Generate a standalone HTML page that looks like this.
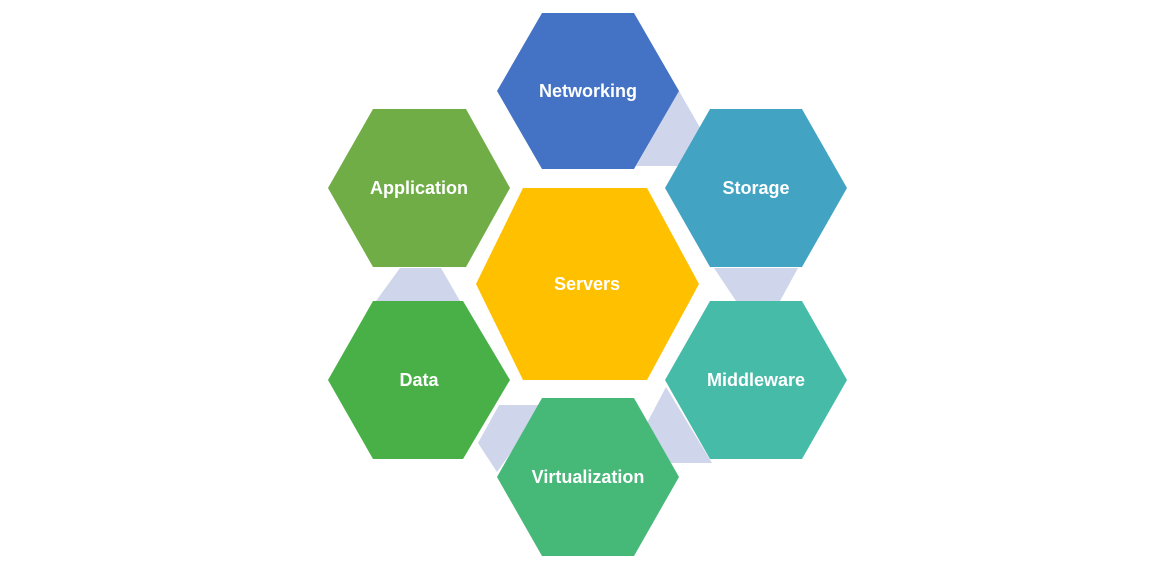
<!DOCTYPE html>
<html><head><meta charset="utf-8"><style>
html,body{margin:0;padding:0;background:#fff;}
svg{display:block;}
text{font-family:"Liberation Sans",sans-serif;font-weight:bold;font-size:18px;fill:#fff;text-anchor:middle;dominant-baseline:central;}
</style></head><body>
<svg width="1174" height="569" viewBox="0 0 1174 569" xmlns="http://www.w3.org/2000/svg">
<g fill="#CFD5EA">
<polygon points="679,91 722,166 636,166"/>
<polygon points="714,268 798,268 780,301 736,301"/>
<polygon points="400,268 441,268 460,301 376,301"/>
<polygon points="499,405 545,405 497,472 478,443"/>
<polygon points="666,387 647,423 668,463 712,463"/>
</g>
<polygon points="497,91 542,13 634,13 679,91 634,169 542,169" fill="#4472C4"/>
<text x="588" y="91">Networking</text>
<polygon points="665,188 710,109 802,109 847,188 802,267 710,267" fill="#43A3C3"/>
<text x="756" y="188">Storage</text>
<polygon points="328,188 373,109 466,109 510,188 466,267 373,267" fill="#70AD47"/>
<text x="419" y="188">Application</text>
<polygon points="476,284 523,188 647,188 699,284 647,380 523,380" fill="#FFC000"/>
<text x="587" y="284">Servers</text>
<polygon points="328,380 373,301 463,301 510,380 463,459 373,459" fill="#48B047"/>
<text x="419" y="380">Data</text>
<polygon points="665,380 710,301 802,301 847,380 802,459 710,459" fill="#45BBA8"/>
<text x="756" y="380">Middleware</text>
<polygon points="497,477 542,398 634,398 679,477 634,556 542,556" fill="#46B878"/>
<text x="588" y="477">Virtualization</text>
</svg>
</body></html>
